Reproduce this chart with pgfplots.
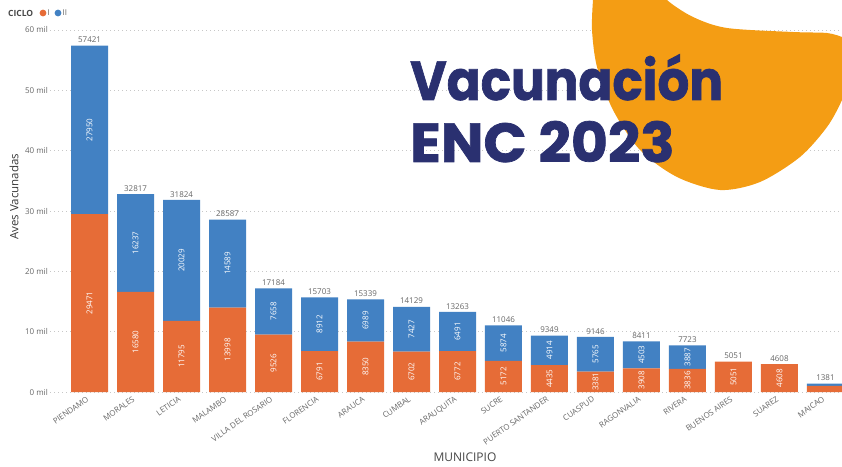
\documentclass[border=0pt]{standalone}
\usepackage{fontspec}
\setmainfont{Open Sans}
\newfontfamily\titlefont{Poppins}[BoldFeatures={FakeBold=1.3}]
\usepackage{pgfplots}
\usepackage{pgfplotstable}
\pgfplotsset{compat=1.18}

\definecolor{cicloI}{HTML}{E66C37}
\definecolor{cicloII}{HTML}{4281C3}
\definecolor{navy}{HTML}{2A3070}
\definecolor{blob}{HTML}{F49D14}
\definecolor{txtgray}{HTML}{666666}

% x, ciclo I, ciclo II, total
\pgfplotstableread{
x I II T
0 29471 27950 57421
1 16580 16237 32817
2 11795 20029 31824
3 13998 14589 28587
4 9526 7658 17184
5 6791 8912 15703
6 8350 6989 15339
7 6702 7427 14129
8 6772 6491 13263
9 5172 5874 11046
10 4435 4914 9349
11 3381 5765 9146
12 3908 4503 8411
13 3836 3887 7723
14 5051 0 5051
15 4608 0 4608
16 1000 381 1381
}\datatable

\pgfplotsset{base/.style={
  at={(50pt,74pt)}, anchor=south west,
  scale only axis, width=792pt, height=362pt,
  xmin=-0.86, xmax=16.36, ymin=0, ymax=60000,
}}

\begin{document}
\begin{tikzpicture}
\useasboundingbox (0,0) rectangle (842pt,466pt);

\begin{axis}[base,
  ybar stacked, bar width=37pt,
  axis line style={draw=none},
  major tick length=0pt,
  ymajorgrids, grid style={dash pattern=on 0.8pt off 3.2pt, black!22},
  scaled y ticks=false,
  ytick={0,10000,20000,30000,40000,50000,60000},
  yticklabels={0 mil,10 mil,20 mil,30 mil,40 mil,50 mil,60 mil},
  y tick label style={font=\fontsize{8}{9}\selectfont, color=txtgray, inner sep=2pt},
  xtick={0,...,16},
  xticklabels={PIENDAMO,MORALES,LETICIA,MALAMBO,VILLA DEL ROSARIO,FLORENCIA,ARAUCA,CUMBAL,ARAUQUITA,SUCRE,PUERTO SANTANDER,CUASPUD,RAGONVALIA,RIVERA,BUENOS AIRES,SUAREZ,MAICAO},
  x tick label style={rotate=35, anchor=north east, xshift=-4pt, font=\fontsize{7.9}{8}\selectfont, color=txtgray, inner sep=1pt},
]
\addplot[fill=cicloI, draw=none] table[x=x, y=I] {\datatable};
\addplot[fill=cicloII, draw=none] table[x=x, y=II] {\datatable};
\end{axis}

% labels
\begin{axis}[base, hide axis, nodes near coords, point meta=explicit symbolic]
\addplot[draw=none, mark=none, every node near coord/.append style={anchor=south, inner sep=2.5pt, font=\fontsize{8}{9}\selectfont, color=txtgray}]
  table[x=x, y=T, meta=T] {\datatable};
\addplot[draw=none, mark=none, skip coords between index={16}{17},
  every node near coord/.append style={rotate=90, anchor=center, font=\fontsize{8}{9}\selectfont, color=white}]
  table[x=x, y expr=\thisrow{I}/2, meta=I] {\datatable};
\addplot[draw=none, mark=none, skip coords between index={14}{17},
  every node near coord/.append style={rotate=90, anchor=center, font=\fontsize{8}{9}\selectfont, color=white}]
  table[x=x, y expr=\thisrow{I}+\thisrow{II}/2, meta=II] {\datatable};
\end{axis}

% decorative blob
\begin{scope}[x=1pt, y=1pt]
\clip (0,0) rectangle (842,466);
\fill[blob] (590,480) -- plot[smooth] coordinates {(593,466) (592,436) (597,399) (613,356) (640,316) (677,289) (720,276) (760,284) (800,309) (827,339) (842,366) (855,400)}
  -- (860,420) -- plot[smooth] coordinates {(842,429) (827,433) (793,434) (727,438) (693,449) (667,466) (660,480)} -- cycle;
\end{scope}

% title
\node[anchor=base west, inner sep=0, color=navy, xscale=0.91, transform shape, font=\titlefont\bfseries\fontsize{55}{55}\selectfont] at (410pt,366pt) {Vacunación};
\node[anchor=base west, inner sep=0, color=navy, xscale=1.03, transform shape, font=\titlefont\bfseries\fontsize{55}{55}\selectfont] at (410pt,304pt) {ENC 2023};

% legend
\node[anchor=west, inner sep=0, font=\bfseries\fontsize{8.5}{9}\selectfont, color=black!72] at (8pt,453pt) {CICLO};
\fill[cicloI] (43pt,453pt) circle (3.4pt);
\node[anchor=west, inner sep=0, font=\fontsize{8}{9}\selectfont, color=txtgray] at (47.5pt,453pt) {I};
\fill[cicloII] (58pt,453pt) circle (3.4pt);
\node[anchor=west, inner sep=0, font=\fontsize{8}{9}\selectfont, color=txtgray] at (62.5pt,453pt) {II};

% axis titles
\node[rotate=90, font=\fontsize{11.5}{13}\selectfont, color=black!78] at (14pt,269pt) {Aves Vacunadas};
\node[font=\fontsize{12}{13}\selectfont, color=black!72] at (465pt,9pt) {MUNICIPIO};
\end{tikzpicture}
\end{document}
